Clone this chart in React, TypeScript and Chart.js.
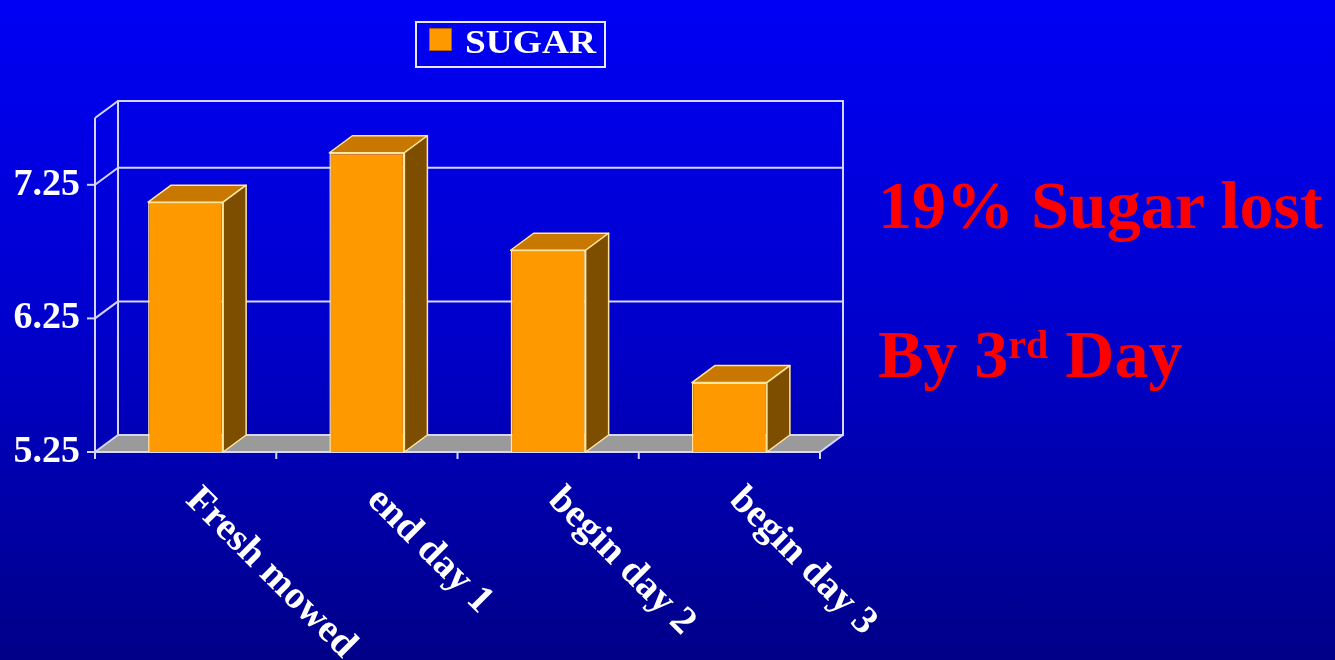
import React, { useEffect, useRef } from 'react';
import { Chart, registerables } from 'chart.js';

Chart.register(...registerables);

const categories = ['Fresh mowed', 'end day 1', 'begin day 2', 'begin day 3'];
const sugarValues = [7.12, 7.49, 6.76, 5.77];
const seriesLabel = 'SUGAR';
const yTicks = [5.25, 6.25, 7.25];
const yMin = 5.25;
const yMax = 7.75;

const DX = 23;
const DY = -17;
const LINE = '#d4d4ff';
const SERIF = '"Liberation Serif", "Times New Roman", serif';

const threeD = {
  id: 'threeD',
  beforeDatasetsDraw(chart: any) {
    const { ctx, chartArea: a, scales } = chart;
    const y = scales.y;
    const line = (x1: number, y1: number, x2: number, y2: number) => {
      ctx.beginPath();
      ctx.moveTo(x1, y1);
      ctx.lineTo(x2, y2);
      ctx.stroke();
    };
    ctx.save();
    // floor
    ctx.fillStyle = '#9a9a9a';
    ctx.beginPath();
    ctx.moveTo(a.left, a.bottom);
    ctx.lineTo(a.right, a.bottom);
    ctx.lineTo(a.right + DX, a.bottom + DY);
    ctx.lineTo(a.left + DX, a.bottom + DY);
    ctx.closePath();
    ctx.fill();
    ctx.strokeStyle = LINE;
    ctx.lineWidth = 2;
    // back wall
    ctx.strokeRect(a.left + DX, a.top + DY, a.right - a.left, a.bottom - a.top);
    for (const v of yTicks) {
      if (v === yMin) continue;
      const py = y.getPixelForValue(v) + DY;
      line(a.left + DX, py, a.right + DX, py);
    }
    // left wall
    line(a.left, a.top, a.left, a.bottom);
    for (const v of [...yTicks, yMax]) {
      const py = y.getPixelForValue(v);
      line(a.left, py, a.left + DX, py + DY);
    }
    line(a.right, a.bottom, a.right + DX, a.bottom + DY);
    // x axis
    line(a.left, a.bottom, a.right, a.bottom);
    const n = categories.length;
    const step = (a.right - a.left) / n;
    for (let k = 0; k <= n; k++) {
      const px = a.left + k * step;
      line(px, a.bottom, px, a.bottom + 7);
    }
    // y tick marks
    for (const v of yTicks) {
      const py = y.getPixelForValue(v);
      line(a.left - 8, py, a.left, py);
    }
    ctx.restore();
  },
  afterDatasetsDraw(chart: any) {
    const { ctx, chartArea: a } = chart;
    const meta = chart.getDatasetMeta(0);
    ctx.save();
    ctx.strokeStyle = '#ffe6a0';
    ctx.lineWidth = 1.5;
    ctx.lineJoin = 'round';
    for (const bar of meta.data) {
      const { x, y, width } = bar.getProps(['x', 'y', 'width'], true);
      const base = a.bottom;
      const l = x - width / 2;
      const r = x + width / 2;
      // top
      ctx.fillStyle = '#c87800';
      ctx.beginPath();
      ctx.moveTo(l, y);
      ctx.lineTo(r, y);
      ctx.lineTo(r + DX, y + DY);
      ctx.lineTo(l + DX, y + DY);
      ctx.closePath();
      ctx.fill();
      ctx.stroke();
      // side
      ctx.fillStyle = '#7e4e00';
      ctx.beginPath();
      ctx.moveTo(r, y);
      ctx.lineTo(r + DX, y + DY);
      ctx.lineTo(r + DX, base + DY);
      ctx.lineTo(r, base);
      ctx.closePath();
      ctx.fill();
      ctx.stroke();
    }
    ctx.restore();
  },
  afterDraw(chart: any) {
    const { ctx, scales } = chart;
    const x = scales.x;
    ctx.save();
    ctx.fillStyle = '#ffffff';
    ctx.font = `bold 39px ${SERIF}`;
    ctx.textAlign = 'left';
    ctx.textBaseline = 'middle';
    categories.forEach((c, i) => {
      const px = x.getPixelForValue(i);
      ctx.save();
      ctx.translate(px + 6, 494);
      ctx.rotate(Math.PI / 4);
      ctx.fillText(c, 0, 0);
      ctx.restore();
    });
    ctx.restore();
  },
};

export default function App() {
  const ref = useRef<HTMLCanvasElement>(null);
  useEffect(() => {
    if (!ref.current) return;
    const chart = new Chart(ref.current, {
      type: 'bar',
      data: {
        labels: categories,
        datasets: [
          {
            label: seriesLabel,
            data: sugarValues,
            backgroundColor: '#ff9900',
            borderColor: '#ffe6a0',
            borderWidth: 1.5,
            categoryPercentage: 1,
            barPercentage: 0.414,
          },
        ],
      },
      options: {
        responsive: false,
        animation: false,
        layout: { padding: { top: 118, right: 515, left: 0, bottom: 0 } },
        plugins: { legend: { display: false }, tooltip: { enabled: false } },
        scales: {
          x: {
            afterFit: (s: any) => {
              s.height = 208;
            },
            grid: { display: false },
            border: { display: false },
            ticks: { display: false },
          },
          y: {
            min: yMin,
            max: yMax,
            afterBuildTicks: (s: any) => {
              s.ticks = yTicks.map((v) => ({ value: v }));
            },
            afterFit: (s: any) => {
              s.width = 95;
            },
            grid: { display: false, drawTicks: false },
            border: { display: false },
            ticks: {
              color: '#ffffff',
              padding: 15,
              font: { family: SERIF, size: 38, weight: 'bold' },
              callback: (v: any) => Number(v).toFixed(2),
            },
          },
        },
      },
      plugins: [threeD],
    });
    return () => chart.destroy();
  }, []);

  const redStyle: React.CSSProperties = {
    position: 'absolute',
    left: 878,
    color: '#ff0000',
    fontFamily: SERIF,
    fontWeight: 'bold',
    fontSize: 68,
    lineHeight: '68px',
    whiteSpace: 'nowrap',
  };

  return (
    <div
      style={{
        position: 'absolute',
        left: 0,
        top: 0,
        width: 1335,
        height: 660,
        overflow: 'hidden',
        background: 'linear-gradient(to bottom, #0000f5 0%, #0000cc 50%, #000088 100%)',
      }}
    >
      <canvas ref={ref} width={1335} height={660} style={{ position: 'absolute', left: 0, top: 0 }} />
      <div
        style={{
          position: 'absolute',
          left: 415,
          top: 21,
          width: 191,
          height: 47,
          boxSizing: 'border-box',
          border: '2px solid #e8e8ff',
        }}
      />
      <div
        style={{
          position: 'absolute',
          left: 429,
          top: 28,
          width: 23,
          height: 23,
          boxSizing: 'border-box',
          background: '#ff9900',
          border: '1px solid #b06000',
        }}
      />
      <div
        style={{
          position: 'absolute',
          left: 465,
          top: 25,
          color: '#ffffff',
          fontFamily: SERIF,
          fontWeight: 'bold',
          fontSize: 34,
          lineHeight: '34px',
          whiteSpace: 'nowrap',
          transform: 'scaleX(1.1)',
          transformOrigin: 'left center',
        }}
      >
        {seriesLabel}
      </div>
      <div style={{ ...redStyle, top: 171 }}>19% Sugar lost</div>
      <div style={{ ...redStyle, top: 320 }}>
        By 3
        <span style={{ fontSize: 40, verticalAlign: '19px', lineHeight: 0 }}>rd</span> Day
      </div>
    </div>
  );
}
